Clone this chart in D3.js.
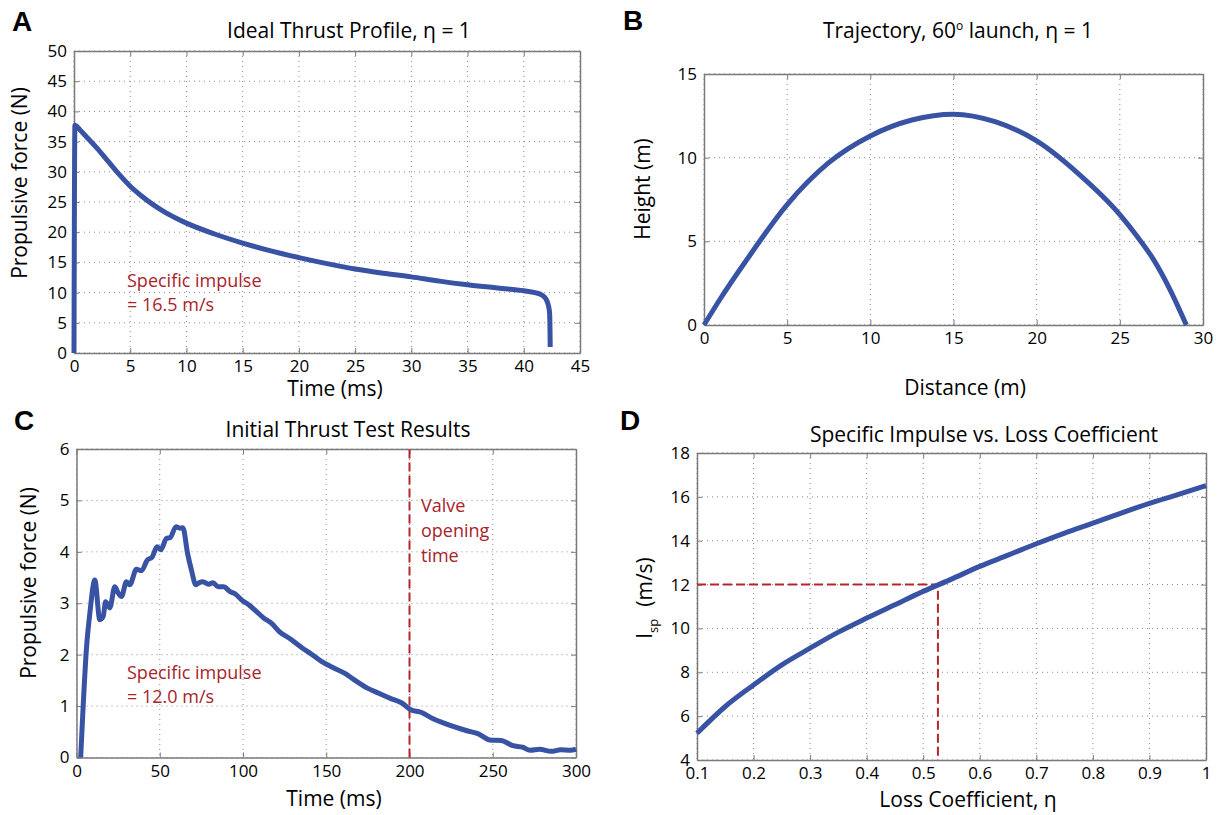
<!DOCTYPE html>
<html>
<head>
<meta charset="utf-8">
<script src="https://cdn.jsdelivr.net/npm/d3@7"></script>
<style>
  body { margin: 0; background: #fff; }
  text { font-family: "Open Sans", sans-serif; }
</style>
</head>
<body>
<script>
// ---- data ----
// A: ideal thrust profile
var thrustTime  = [0, 0.08, 0.5, 1, 2, 3, 4, 5, 6, 7, 8, 9, 10, 12.5, 15, 17.5, 20, 22.5, 25, 27.5, 30, 32.5, 35, 37.5, 40, 41, 41.6, 41.95, 42.2, 42.3, 42.33, 42.35];
var thrustForce = [0, 37.7, 37.0, 36.0, 34.0, 31.8, 29.6, 27.6, 26.0, 24.6, 23.4, 22.4, 21.5, 19.7, 18.2, 16.9, 15.8, 14.8, 13.9, 13.2, 12.6, 11.9, 11.3, 10.8, 10.3, 10.0, 9.6, 9.0, 7.8, 6.5, 4.0, 1.0];

// B: trajectory
var trajDist   = [0, 1, 2.5, 5, 7.5, 10, 12.5, 15, 17.5, 20, 22.5, 25, 26, 27, 28, 29];
var trajHeight = [0, 1.6, 3.8, 7.2, 9.7, 11.3, 12.25, 12.6, 12.15, 11.0, 9.05, 6.6, 5.35, 3.95, 2.15, 0];

// C: measured thrust
var testTime = [2.5, 4.0, 6.0, 8.0, 11.0, 14.0, 16.0, 17.5, 20.0, 23.0,
  25.0, 27.0, 30.0, 32.0, 36.0, 39.0, 42.5, 45.5, 48.3, 50.6,
  54.0, 56.3, 59.8, 62.0, 63.9, 66.7, 69.0, 71.7, 73.6, 75.9,
  79.3, 82.0, 85.0, 88.5, 92.0, 95.4, 99.3, 103.4, 108.0, 112.6,
  117.2, 121.8, 128.7, 135.6, 140.2, 147.1, 154.0, 160.9, 167.8, 174.7,
  181.6, 188.5, 195.4, 200.7, 206.9, 213.8, 220.7, 227.6, 234.5, 241.4,
  248.3, 255.2, 262.1, 267.9, 272.4, 278.2, 285.1, 290.8, 296.6, 300];
var testForce = [0, 1.0, 2.13, 2.8, 3.45, 2.68, 2.74, 3.03, 2.91, 3.32,
  3.2, 3.13, 3.42, 3.36, 3.66, 3.63, 3.84, 3.9, 4.1, 4.04,
  4.26, 4.28, 4.49, 4.46, 4.47, 3.97, 3.65, 3.36, 3.4, 3.42,
  3.37, 3.4, 3.32, 3.32, 3.23, 3.18, 3.06, 2.97, 2.84, 2.71,
  2.61, 2.45, 2.3, 2.13, 2.03, 1.87, 1.75, 1.64, 1.49, 1.35,
  1.25, 1.15, 1.06, 0.93, 0.88, 0.76, 0.67, 0.59, 0.52, 0.46,
  0.34, 0.33, 0.23, 0.2, 0.14, 0.16, 0.12, 0.15, 0.14, 0.16];
var valveTime = 200;

// D: specific impulse vs loss coefficient
var lossEta = [0.1, 0.15, 0.2, 0.25, 0.3, 0.35, 0.4, 0.45, 0.5, 0.55, 0.6, 0.65, 0.7, 0.75, 0.8, 0.85, 0.9, 0.95, 1.0];
var lossIsp = [5.22, 6.44, 7.42, 8.34, 9.1, 9.83, 10.47, 11.08, 11.69, 12.25, 12.83, 13.34, 13.86, 14.35, 14.8, 15.26, 15.7, 16.1, 16.51];
var refEta = [0.1, 0.526, 0.526];
var refIsp = [12, 12, 4];

// tick values
var ticksA_x = [0, 5, 10, 15, 20, 25, 30, 35, 40, 45];
var ticksA_y = [0, 5, 10, 15, 20, 25, 30, 35, 40, 45, 50];
var ticksB_x = [0, 5, 10, 15, 20, 25, 30];
var ticksB_y = [0, 5, 10, 15];
var ticksC_x = [0, 50, 100, 150, 200, 250, 300];
var ticksC_y = [0, 1, 2, 3, 4, 5, 6];
var ticksD_x = [0.1, 0.2, 0.3, 0.4, 0.5, 0.6, 0.7, 0.8, 0.9, 1];
var ticksD_y = [4, 6, 8, 10, 12, 14, 16, 18];

var blue = "#3953a4", red = "#b5262c", redText = "#a8232a", axisGrey = "#7a7a7a";

var svg = d3.select("body").append("svg")
    .attr("width", 1230)
    .attr("height", 815);

function plain(d) { return String(d); }

function panel(p) {
    var x = d3.scaleLinear().domain(p.xDomain).range([p.left, p.right]);
    var y = d3.scaleLinear().domain(p.yDomain).range([p.bottom, p.top]);
    var g = svg.append("g");

    // dotted grid
    g.selectAll(".vg").data(p.xTicks).enter().append("line")
        .attr("x1", function (d) { return x(d); }).attr("x2", function (d) { return x(d); })
        .attr("y1", p.top).attr("y2", p.bottom)
        .attr("stroke", "#8a8a8a").attr("stroke-width", 1).attr("stroke-dasharray", "1,4");
    g.selectAll(".hg").data(p.yTicks).enter().append("line")
        .attr("y1", function (d) { return y(d); }).attr("y2", function (d) { return y(d); })
        .attr("x1", p.left).attr("x2", p.right)
        .attr("stroke", "#8a8a8a").attr("stroke-width", 1).attr("stroke-dasharray", "1,4");

    // box with inward ticks on all sides
    var axes = [
        [d3.axisBottom(x).tickValues(p.xTicks).tickFormat(plain), "translate(0," + p.bottom + ")", 7],
        [d3.axisTop(x).tickValues(p.xTicks).tickFormat(""), "translate(0," + p.top + ")", 0],
        [d3.axisLeft(y).tickValues(p.yTicks).tickFormat(plain), "translate(" + p.left + ",0)", 7],
        [d3.axisRight(y).tickValues(p.yTicks).tickFormat(""), "translate(" + p.right + ",0)", 0]
    ];
    axes.forEach(function (a) {
        var ax = g.append("g").attr("transform", a[1])
            .call(a[0].tickSizeInner(-5).tickSizeOuter(0).tickPadding(a[2]));
        ax.select(".domain").attr("stroke", axisGrey).attr("stroke-width", 1.5);
        ax.selectAll(".tick line").attr("stroke", axisGrey).attr("stroke-width", 1);
        ax.selectAll("text").attr("fill", "#000").style("font-size", "17px")
            .style("font-family", "'Open Sans', sans-serif");
    });

    // letter
    svg.append("text").attr("x", p.letterX).attr("y", p.letterY)
        .style("font-family", "'Liberation Sans', Arial, sans-serif")
        .style("font-weight", "bold").style("font-size", "28px")
        .text(p.letter);

    // axis labels
    svg.append("text").attr("x", p.xLabelX).attr("y", p.xLabelY)
        .attr("text-anchor", "middle").style("font-size", "21px").text(p.xLabel);
    if (p.yLabel) {
        svg.append("text")
            .attr("transform", "translate(" + p.yLabelX + "," + p.yLabelY + ") rotate(-90)")
            .attr("text-anchor", "middle").style("font-size", "21px").text(p.yLabel);
    }
    return { x: x, y: y, g: g };
}

function curve(pn, xs, ys, color, width, dash, shape) {
    var pts = xs.map(function (d, i) { return [d, ys[i]]; });
    var line = d3.line()
        .x(function (d) { return pn.x(d[0]); })
        .y(function (d) { return pn.y(d[1]); })
        .curve(shape || d3.curveLinear);
    pn.g.append("path").datum(pts)
        .attr("d", line)
        .attr("fill", "none")
        .attr("stroke", color)
        .attr("stroke-width", width)
        .attr("stroke-linejoin", "round")
        .attr("stroke-dasharray", dash || null);
}

function note(x, y, lines, gap) {
    var t = svg.append("text").attr("x", x).attr("y", y)
        .attr("fill", redText).style("font-size", "18px");
    lines.forEach(function (s, i) {
        t.append("tspan").attr("x", x).attr("dy", i ? gap : 0).text(s);
    });
}

// ---- A ----
var pA = panel({
    left: 74, right: 580, top: 51, bottom: 353,
    xDomain: [0, 45], yDomain: [0, 50], xTicks: ticksA_x, yTicks: ticksA_y,
    letter: "A", letterX: 12, letterY: 31,
    xLabel: "Time (ms)", xLabelX: 335, xLabelY: 396,
    yLabel: "Propulsive force (N)", yLabelX: 27, yLabelY: 183
});
svg.append("text").attr("x", 349).attr("y", 38).attr("text-anchor", "middle")
    .style("font-size", "21px").text("Ideal Thrust Profile, \u03b7 = 1");
curve(pA, thrustTime, thrustForce, blue, 5, null, d3.curveMonotoneX);
note(127, 287, ["Specific impulse", "= 16.5 m/s"], 24);

// ---- B ----
var pB = panel({
    left: 704, right: 1203, top: 74, bottom: 325,
    xDomain: [0, 30], yDomain: [0, 15], xTicks: ticksB_x, yTicks: ticksB_y,
    letter: "B", letterX: 623, letterY: 30,
    xLabel: "Distance (m)", xLabelX: 965, xLabelY: 395,
    yLabel: "Height (m)", yLabelX: 650, yLabelY: 189
});
var tB = svg.append("text").attr("x", 958).attr("y", 38).attr("text-anchor", "middle")
    .style("font-size", "21px");
tB.append("tspan").text("Trajectory, 60");
tB.append("tspan").attr("dy", -8).style("font-size", "12px").text("o");
tB.append("tspan").attr("dy", 8).text(" launch, \u03b7 = 1");
curve(pB, trajDist, trajHeight, blue, 5, null, d3.curveMonotoneX);

// ---- C ----
var pC = panel({
    left: 76.5, right: 576, top: 449, bottom: 757.5,
    xDomain: [0, 300], yDomain: [0, 6], xTicks: ticksC_x, yTicks: ticksC_y,
    letter: "C", letterX: 14, letterY: 430,
    xLabel: "Time (ms)", xLabelX: 334, xLabelY: 806,
    yLabel: "Propulsive force (N)", yLabelX: 36, yLabelY: 583
});
svg.append("text").attr("x", 348).attr("y", 437).attr("text-anchor", "middle")
    .style("font-size", "21px").text("Initial Thrust Test Results");
curve(pC, [valveTime, valveTime], [0, 6], red, 2, "9,4");
curve(pC, testTime, testForce, blue, 5, null, d3.curveMonotoneX);
note(127, 679, ["Specific impulse", "= 12.0 m/s"], 24);
note(421, 512, ["Valve", "opening", "time"], 25);

// ---- D ----
var pD = panel({
    left: 697, right: 1206, top: 453, bottom: 760,
    xDomain: [0.1, 1], yDomain: [4, 18], xTicks: ticksD_x, yTicks: ticksD_y,
    letter: "D", letterX: 620, letterY: 430,
    xLabel: "Loss Coefficient, \u03b7", xLabelX: 968, xLabelY: 807
});
svg.append("text").attr("x", 984).attr("y", 442).attr("text-anchor", "middle")
    .style("font-size", "21px").text("Specific Impulse vs. Loss Coefficient");
var yl = svg.append("text")
    .attr("transform", "translate(652,598) rotate(-90)")
    .attr("text-anchor", "middle").style("font-size", "21px");
yl.append("tspan").text("I");
yl.append("tspan").attr("dy", 6).style("font-size", "13px").text("sp");
yl.append("tspan").attr("dy", -6).attr("dx", 12).text("(m/s)");
curve(pD, refEta, refIsp, red, 2, "9,4");
curve(pD, lossEta, lossIsp, blue, 5, null, d3.curveMonotoneX);
</script>
</body>
</html>
